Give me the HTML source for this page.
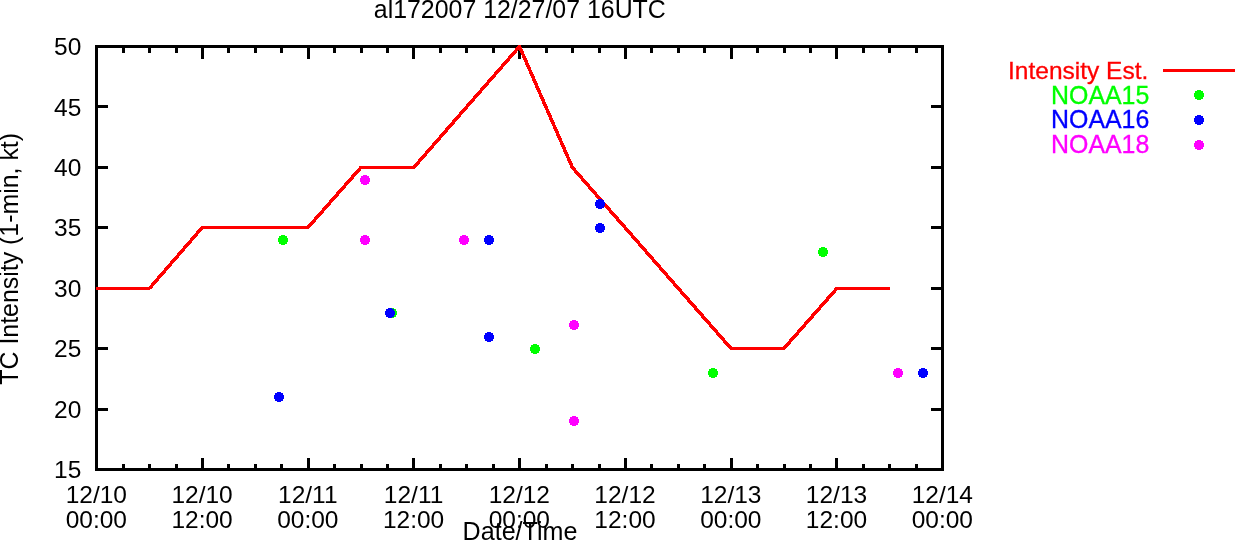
<!DOCTYPE html>
<html lang="en"><head><meta charset="utf-8"><title>al172007 12/27/07 16UTC</title>
<style>
html,body{margin:0;padding:0;background:#fff;overflow:hidden;}
svg{display:block;}
text{font-family:"Liberation Sans",Arial,Helvetica,sans-serif;font-size:24.5px;fill:#000;}
</style></head><body>
<svg width="1235" height="540" viewBox="0 0 1235 540">
<rect width="1235" height="540" fill="#fff"/>

<g fill="#000" shape-rendering="crispEdges">
<rect x="95" y="45" width="849" height="3"/>
<rect x="95" y="468" width="849" height="3"/>
<rect x="95" y="45" width="3" height="426"/>
<rect x="941" y="45" width="3" height="426"/>
<rect x="122" y="45" width="3" height="8"/><rect x="122" y="464" width="3" height="7"/>
<rect x="148" y="45" width="3" height="8"/><rect x="148" y="464" width="3" height="7"/>
<rect x="175" y="45" width="3" height="8"/><rect x="175" y="464" width="3" height="7"/>
<rect x="201" y="45" width="3" height="14"/><rect x="201" y="458" width="3" height="13"/>
<rect x="227" y="45" width="3" height="8"/><rect x="227" y="464" width="3" height="7"/>
<rect x="254" y="45" width="3" height="8"/><rect x="254" y="464" width="3" height="7"/>
<rect x="280" y="45" width="3" height="8"/><rect x="280" y="464" width="3" height="7"/>
<rect x="307" y="45" width="3" height="14"/><rect x="307" y="458" width="3" height="13"/>
<rect x="333" y="45" width="3" height="8"/><rect x="333" y="464" width="3" height="7"/>
<rect x="360" y="45" width="3" height="8"/><rect x="360" y="464" width="3" height="7"/>
<rect x="386" y="45" width="3" height="8"/><rect x="386" y="464" width="3" height="7"/>
<rect x="412" y="45" width="3" height="14"/><rect x="412" y="458" width="3" height="13"/>
<rect x="439" y="45" width="3" height="8"/><rect x="439" y="464" width="3" height="7"/>
<rect x="465" y="45" width="3" height="8"/><rect x="465" y="464" width="3" height="7"/>
<rect x="492" y="45" width="3" height="8"/><rect x="492" y="464" width="3" height="7"/>
<rect x="518" y="45" width="3" height="14"/><rect x="518" y="458" width="3" height="13"/>
<rect x="545" y="45" width="3" height="8"/><rect x="545" y="464" width="3" height="7"/>
<rect x="571" y="45" width="3" height="8"/><rect x="571" y="464" width="3" height="7"/>
<rect x="598" y="45" width="3" height="8"/><rect x="598" y="464" width="3" height="7"/>
<rect x="624" y="45" width="3" height="14"/><rect x="624" y="458" width="3" height="13"/>
<rect x="650" y="45" width="3" height="8"/><rect x="650" y="464" width="3" height="7"/>
<rect x="677" y="45" width="3" height="8"/><rect x="677" y="464" width="3" height="7"/>
<rect x="703" y="45" width="3" height="8"/><rect x="703" y="464" width="3" height="7"/>
<rect x="730" y="45" width="3" height="14"/><rect x="730" y="458" width="3" height="13"/>
<rect x="756" y="45" width="3" height="8"/><rect x="756" y="464" width="3" height="7"/>
<rect x="783" y="45" width="3" height="8"/><rect x="783" y="464" width="3" height="7"/>
<rect x="809" y="45" width="3" height="8"/><rect x="809" y="464" width="3" height="7"/>
<rect x="835" y="45" width="3" height="14"/><rect x="835" y="458" width="3" height="13"/>
<rect x="862" y="45" width="3" height="8"/><rect x="862" y="464" width="3" height="7"/>
<rect x="888" y="45" width="3" height="8"/><rect x="888" y="464" width="3" height="7"/>
<rect x="915" y="45" width="3" height="8"/><rect x="915" y="464" width="3" height="7"/>
<rect x="95" y="408" width="13" height="3"/><rect x="931" y="408" width="13" height="3"/>
<rect x="95" y="347" width="13" height="3"/><rect x="931" y="347" width="13" height="3"/>
<rect x="95" y="287" width="13" height="3"/><rect x="931" y="287" width="13" height="3"/>
<rect x="95" y="226" width="13" height="3"/><rect x="931" y="226" width="13" height="3"/>
<rect x="95" y="166" width="13" height="3"/><rect x="931" y="166" width="13" height="3"/>
<rect x="95" y="105" width="13" height="3"/><rect x="931" y="105" width="13" height="3"/>
</g>
<g fill="none" stroke="#f00" shape-rendering="crispEdges">
<polyline points="96.00,288.50 149.38,288.50 202.25,227.50 308.00,227.50 360.88,167.50 413.75,167.50 519.50,46.50 572.38,167.50 731.00,348.50 783.88,348.50 836.75,288.50 889.62,288.50" stroke-width="3" stroke-linejoin="round"/>
<path d="M149.38 288.50L202.25 227.50" stroke-width="3.5"/>
<path d="M308.00 227.50L360.88 167.50" stroke-width="3.5"/>
<path d="M413.75 167.50L519.50 46.50" stroke-width="3.5"/>
<path d="M519.50 46.50L572.38 167.50" stroke-width="3.5"/>
<path d="M572.38 167.50L731.00 348.50" stroke-width="3.5"/>
<path d="M783.88 348.50L836.75 288.50" stroke-width="3.5"/>
</g>
<g shape-rendering="crispEdges">
<circle cx="283" cy="240" r="5" fill="#0f0"/>
<circle cx="392" cy="313" r="5" fill="#0f0"/>
<circle cx="535" cy="349" r="5" fill="#0f0"/>
<circle cx="713" cy="373" r="5" fill="#0f0"/>
<circle cx="823" cy="252" r="5" fill="#0f0"/>
<circle cx="279" cy="397" r="5" fill="#00f"/>
<circle cx="390" cy="313" r="5" fill="#00f"/>
<circle cx="489" cy="240" r="5" fill="#00f"/>
<circle cx="489" cy="337" r="5" fill="#00f"/>
<circle cx="600" cy="204" r="5" fill="#00f"/>
<circle cx="600" cy="228" r="5" fill="#00f"/>
<circle cx="923" cy="373" r="5" fill="#00f"/>
<circle cx="365" cy="180" r="5" fill="#f0f"/>
<circle cx="365" cy="240" r="5" fill="#f0f"/>
<circle cx="464" cy="240" r="5" fill="#f0f"/>
<circle cx="574" cy="325" r="5" fill="#f0f"/>
<circle cx="574" cy="421" r="5" fill="#f0f"/>
<circle cx="898" cy="373" r="5" fill="#f0f"/>
</g>
<text x="81.3" y="478.1" text-anchor="end">15</text>
<text x="81.3" y="417.7" text-anchor="end">20</text>
<text x="81.3" y="357.2" text-anchor="end">25</text>
<text x="81.3" y="296.8" text-anchor="end">30</text>
<text x="81.3" y="236.4" text-anchor="end">35</text>
<text x="81.3" y="176.0" text-anchor="end">40</text>
<text x="81.3" y="115.5" text-anchor="end">45</text>
<text x="81.3" y="55.1" text-anchor="end">50</text>
<text x="96.3" y="503" text-anchor="middle">12/10</text>
<text x="96.3" y="528" text-anchor="middle">00:00</text>
<text x="202.1" y="503" text-anchor="middle">12/10</text>
<text x="202.1" y="528" text-anchor="middle">12:00</text>
<text x="307.8" y="503" text-anchor="middle">12/11</text>
<text x="307.8" y="528" text-anchor="middle">00:00</text>
<text x="413.6" y="503" text-anchor="middle">12/11</text>
<text x="413.6" y="528" text-anchor="middle">12:00</text>
<text x="519.3" y="503" text-anchor="middle">12/12</text>
<text x="519.3" y="528" text-anchor="middle">00:00</text>
<text x="625.0" y="503" text-anchor="middle">12/12</text>
<text x="625.0" y="528" text-anchor="middle">12:00</text>
<text x="730.8" y="503" text-anchor="middle">12/13</text>
<text x="730.8" y="528" text-anchor="middle">00:00</text>
<text x="836.5" y="503" text-anchor="middle">12/13</text>
<text x="836.5" y="528" text-anchor="middle">12:00</text>
<text x="942.3" y="503" text-anchor="middle">12/14</text>
<text x="942.3" y="528" text-anchor="middle">00:00</text>
<text x="520" y="540" text-anchor="middle" style="font-size:25.1px">Date/Time</text>
<text x="519.8" y="18" text-anchor="middle" style="font-size:24.9px">al172007 12/27/07 16UTC</text>
<text transform="translate(18.2,258.8) rotate(-90)" text-anchor="middle" style="font-size:24.9px">TC Intensity (1-min, kt)</text>
<text x="1148.3" y="78.8" text-anchor="end" style="fill:#f00;stroke:#f00;stroke-width:0.3px;font-size:24.5px">Intensity Est.</text>
<text x="1149.3" y="103.8" text-anchor="end" style="fill:#0f0;stroke:#0f0;stroke-width:0.3px;font-size:24.9px">NOAA15</text>
<text x="1149.3" y="128.0" text-anchor="end" style="fill:#00f;stroke:#00f;stroke-width:0.3px;font-size:24.9px">NOAA16</text>
<text x="1149.3" y="152.9" text-anchor="end" style="fill:#f0f;stroke:#f0f;stroke-width:0.3px;font-size:24.9px">NOAA18</text>
<rect x="1163" y="69" width="72" height="3" fill="#f00" shape-rendering="crispEdges"/>
<g shape-rendering="crispEdges">
<circle cx="1199" cy="95" r="5" fill="#0f0"/>
<circle cx="1199" cy="120" r="5" fill="#00f"/>
<circle cx="1199" cy="145" r="5" fill="#f0f"/>
</g>
</svg></body></html>
